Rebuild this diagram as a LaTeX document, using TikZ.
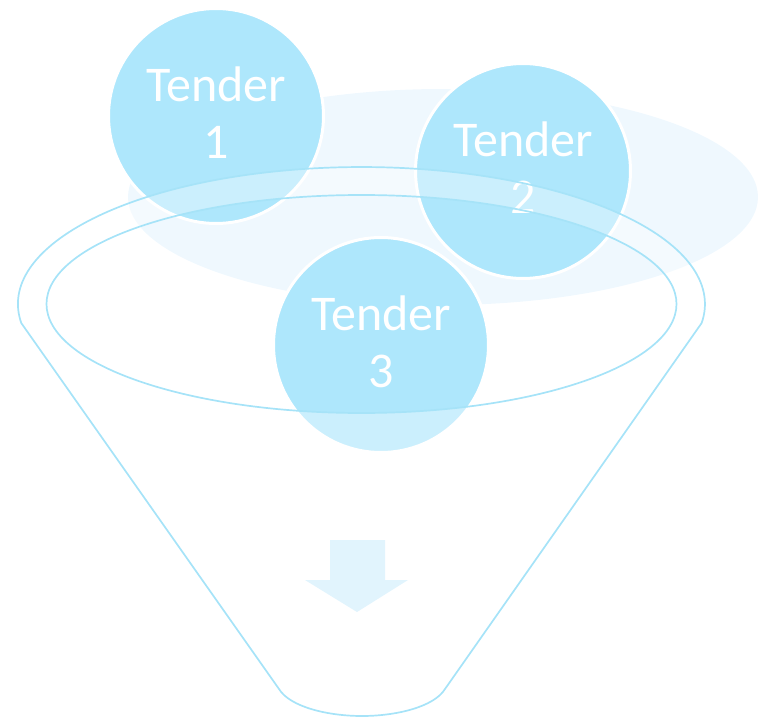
\documentclass[tikz,border=0pt]{standalone}
\usepackage{fontspec}
\setmainfont{Carlito}
\definecolor{haze}{HTML}{EFF8FE}
\definecolor{bubble}{HTML}{AEE7FC}
\definecolor{rim}{HTML}{A6E3F8}
\definecolor{flow}{HTML}{E1F4FD}
% two-line label, lowered a little inside its circle
\newcommand{\tenderlabel}[1]{\raisebox{-3pt}[\height][\depth]{\begin{tabular}{@{}c@{}}Tender\\#1\end{tabular}}}
\begin{document}
\begin{tikzpicture}[x=1pt,y=-1pt,
  tender/.style={circle, fill=bubble, draw=white, line width=3pt,
    minimum size=215pt, inner sep=0pt, text=white, align=center,
    font=\fontsize{50}{57}\selectfont},
  rimline/.style={draw=rim, line width=1.7pt},
  veil/.style={fill=white, fill opacity=0.37}]
\useasboundingbox (0,0) rectangle (758,717);

% soft backdrop behind the tenders
\fill[haze] (443,197) ellipse [x radius=315, y radius=108];

% the three tenders
\node[tender] (t1) at (216,116) {\tenderlabel{1}};
\node[tender] (t2) at (523,171) {\tenderlabel{2}};
\node[tender] (t3) at (381,345) {\tenderlabel{3}};

% funnel geometry
\coordinate (mouth) at (361.5,304);
\coordinate (ul) at (21.3,323.1);
\coordinate (ur) at (701.7,323.1);
\coordinate (bl) at (279,689);
\coordinate (br) at (445,689);
\coordinate (bottom) at (362,716);

% translucent funnel body and rim, open at the mouth
\path[veil, even odd rule]
  (ul) arc[start angle=172, end angle=368, x radius=343.5, y radius=137]
  -- (br) .. controls (434,707) and (396,716) .. (bottom)
  .. controls (328,716) and (290,707) .. (bl) -- cycle
  (mouth) ellipse [x radius=315, y radius=109];

% funnel outlines
\draw[rimline]
  (ul) arc[start angle=172, end angle=368, x radius=343.5, y radius=137]
  -- (br) .. controls (434,707) and (396,716) .. (bottom)
  .. controls (328,716) and (290,707) .. (bl) -- cycle;
\draw[rimline] (mouth) ellipse [x radius=315, y radius=109];

% downward arrow inside the funnel
\fill[flow] (330,540) -- (385,540) -- (385,580) -- (408,580)
  -- (357,612) -- (305,580) -- (330,580) -- cycle;
\end{tikzpicture}
\end{document}
